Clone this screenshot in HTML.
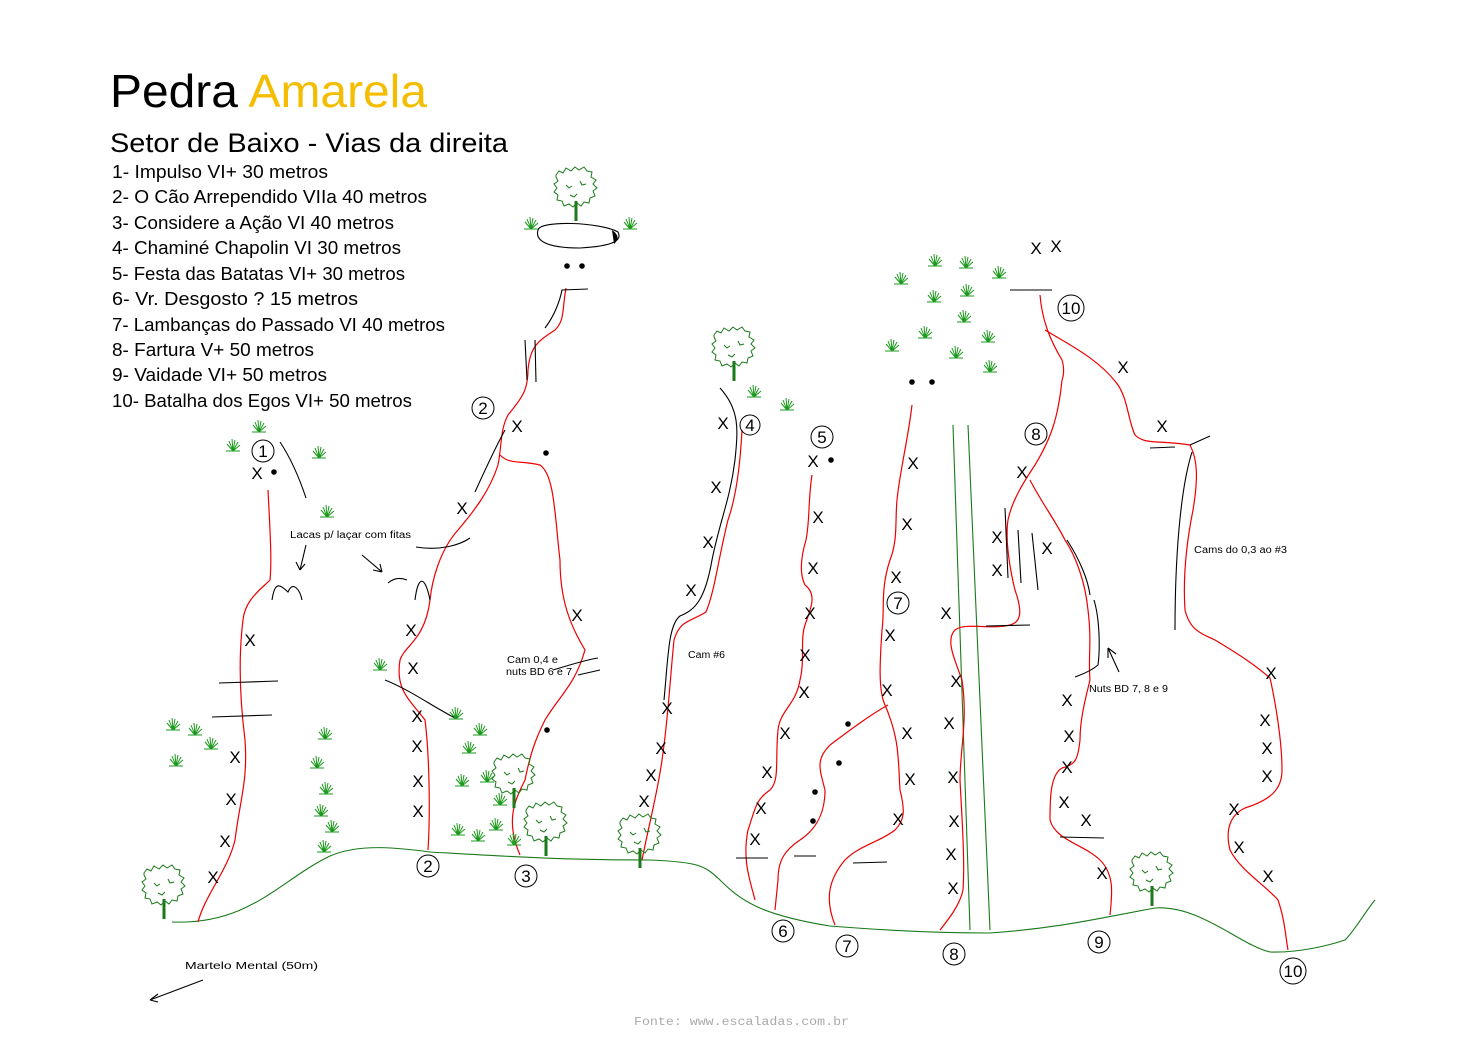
<!DOCTYPE html>
<html><head><meta charset="utf-8"><style>
html,body{margin:0;padding:0;background:#fff;}
svg{display:block;}
.t{font-family:"Liberation Sans",sans-serif;}
.r{fill:none;stroke:#e00;stroke-width:1.2;}
.k{fill:none;stroke:#000;stroke-width:1.1;}
.g{fill:none;stroke:#1a7a1a;stroke-width:1.1;}
.x{font-family:"Liberation Sans",sans-serif;font-size:17px;fill:#000;text-anchor:middle;}
.n{font-family:"Liberation Sans",sans-serif;font-size:17px;fill:#000;text-anchor:middle;}
.s{font-family:"Liberation Sans",sans-serif;font-size:10px;fill:#000;}
</style></head><body>
<svg width="1484" height="1050" viewBox="0 0 1484 1050" xmlns="http://www.w3.org/2000/svg">
<defs>
<g id="tuft" stroke="#1a9a1a" stroke-width="1" fill="none">
<path d="M0 0 L-6 -7 M0 0 L-4 -10 M0 0 L-1 -12 M0 0 L2 -11 M0 0 L5 -9 M0 0 L7 -6 M-7 0 L7 0"/>
</g>
<g id="tree" fill="none" stroke="#1a7a1a" stroke-width="1">
<path d="M-20 -40 l3 -4 l4 2 l3 -5 l5 3 l4 -4 l4 3 l5 -3 l3 4 l5 1 l-1 5 l5 3 l-3 4 l4 4 l-4 3 l2 5 l-5 2 l-1 5 l-5 -1 l-3 4 l-4 -3 l-4 4 l-4 -3 l-5 2 l-2 -5 l-5 -1 l1 -5 l-4 -3 l3 -4 l-3 -4 l4 -3 l-2 -4z"/>
<path d="M-10 -30 l3 3 l3 -2 M4 -34 l2 4 l4 -1 M-6 -20 l4 2 l3 -3"/>
<path d="M0 -14 L0 6" stroke-width="3"/>
</g>
</defs>

<text x="110" y="107" class="t" font-size="46" fill="#000" textLength="317" lengthAdjust="spacingAndGlyphs">Pedra <tspan fill="#f5bd00">Amarela</tspan></text>
<text x="110" y="152" class="t" font-size="27" textLength="398" lengthAdjust="spacingAndGlyphs">Setor de Baixo - Vias da direita</text>
<g class="t" font-size="18">
<text x="112" y="178" textLength="216" lengthAdjust="spacingAndGlyphs">1- Impulso VI+ 30 metros</text>
<text x="112" y="203" textLength="315" lengthAdjust="spacingAndGlyphs">2- O Cão Arrependido VIIa 40 metros</text>
<text x="112" y="229" textLength="282" lengthAdjust="spacingAndGlyphs">3- Considere a Ação VI 40 metros</text>
<text x="112" y="254" textLength="289" lengthAdjust="spacingAndGlyphs">4- Chaminé Chapolin VI 30 metros</text>
<text x="112" y="280" textLength="293" lengthAdjust="spacingAndGlyphs">5- Festa das Batatas VI+ 30 metros</text>
<text x="112" y="305" textLength="246" lengthAdjust="spacingAndGlyphs">6- Vr. Desgosto  ?  15 metros</text>
<text x="112" y="331" textLength="333" lengthAdjust="spacingAndGlyphs">7- Lambanças do Passado VI 40 metros</text>
<text x="112" y="356" textLength="202" lengthAdjust="spacingAndGlyphs">8- Fartura V+ 50 metros</text>
<text x="112" y="381" textLength="215" lengthAdjust="spacingAndGlyphs">9- Vaidade VI+ 50 metros</text>
<text x="112" y="407" textLength="300" lengthAdjust="spacingAndGlyphs">10- Batalha dos Egos VI+ 50 metros</text>
</g>

<path class="g" d="M172 922 C250 925 280 880 330 856 C360 843 400 848 430 852 C500 856 560 860 650 860 C700 862 705 866 720 880 C740 900 760 915 830 926 C880 930 940 933 990 933 C1060 928 1100 918 1155 908 C1200 905 1240 945 1270 952 C1300 953 1330 945 1345 940 C1355 930 1365 912 1375 900"/>
<path class="k" d="M538 230 C540 220 600 222 618 232 C622 240 615 246 580 248 C545 248 535 240 538 230z"/>
<path d="M612 230 Q622 237 614 244z" fill="#000"/>
<path class="g" d="M953 425 L970 930 M968 425 L990 930"/>

<path class="r" d="M268 490 C270 530 272 560 270 580 C260 590 245 600 243 620 C238 660 240 700 245 740 C248 780 240 800 235 840 C228 870 205 895 198 922"/>
<path class="r" d="M566 288 C562 310 565 320 555 330 C540 340 530 345 528 370 C528 392 520 400 508 415 C500 430 502 445 498 465 C490 490 475 510 458 530 C440 550 432 580 430 600 C425 640 405 645 400 660 C395 690 410 700 425 720 C430 760 430 820 428 850"/>
<path class="r" d="M500 455 C510 465 520 460 540 465 C555 475 555 520 560 560 C560 600 570 625 585 650 C575 685 560 695 545 720 C535 740 530 755 525 780 C515 800 505 820 520 855"/>
<path class="r" d="M742 430 C740 470 735 500 728 520 C718 560 715 590 706 612 C690 622 680 620 674 640 C670 680 668 720 662 760 C658 790 650 820 642 860"/>
<path class="r" d="M812 475 C808 500 810 520 806 540 C800 560 800 575 805 585 C818 595 810 610 805 625 C800 640 805 660 800 680 C796 705 780 710 778 730 C775 760 780 780 770 790 C755 800 755 810 748 830 C742 860 750 880 755 900"/>
<path class="r" d="M912 405 C908 440 900 470 897 500 C895 520 898 540 890 560 C880 590 885 610 882 630 C880 660 878 690 885 705 C900 740 898 760 900 790 C905 810 905 820 895 830 C880 842 860 845 845 860 C828 880 825 900 835 925"/>
<path class="r" d="M888 705 C870 715 850 730 830 745 C815 760 820 770 825 790 C825 815 815 830 800 840 C785 850 778 860 778 880 L775 910"/>
<path class="r" d="M1062 380 C1058 420 1050 440 1035 465 C1025 480 1012 500 1008 520 C1005 540 1010 570 1015 590 C1022 610 1022 622 1010 625 C990 630 965 622 955 630 C945 640 955 660 962 680 C968 720 960 750 960 780 C962 820 965 860 963 890 C960 905 948 920 940 930"/>
<path class="r" d="M1030 480 C1040 500 1055 520 1065 540 C1075 555 1085 580 1088 610 C1092 640 1088 660 1090 680 C1085 700 1080 720 1080 740 C1078 760 1075 765 1062 768 C1050 775 1050 800 1050 820 C1055 840 1085 845 1100 860 C1115 875 1112 895 1110 915"/>
<path class="r" d="M1040 295 C1042 320 1050 340 1062 360 C1065 370 1063 378 1062 380"/>
<path class="r" d="M1045 330 C1070 345 1100 360 1118 385 C1128 400 1128 420 1135 435 C1145 445 1160 440 1190 445 C1198 460 1198 480 1193 510 C1186 545 1183 580 1185 610 C1190 630 1200 633 1215 640 C1240 655 1255 665 1270 678 C1275 700 1282 740 1282 770 C1282 790 1270 800 1245 808 C1230 815 1225 830 1230 850 C1240 870 1265 885 1278 900 C1285 920 1286 940 1288 950"/>

<g class="k">
<path d="M280 442 C292 460 300 480 306 498"/>
<path d="M219 683 L278 681 M212 717 L272 715"/>
<path d="M306 545 L300 570 M300 570 L296 562 M300 570 L305 564"/>
<path d="M362 555 L382 572 M382 572 L373 570 M382 572 L380 564"/>
<path d="M272 600 C275 580 280 585 288 592 C293 580 300 590 302 600"/>
<path d="M388 583 C395 577 402 578 407 580 M415 600 C418 575 425 575 430 600"/>
<path d="M416 547 C440 551 460 545 470 538"/>
<path d="M475 492 C485 470 495 448 505 430"/>
<path d="M545 328 C555 315 560 300 562 290 L588 289"/>
<path d="M525 340 L527 380 M535 340 L536 382"/>
<path d="M385 680 C410 690 430 705 455 718"/>
<path d="M553 670 C570 665 585 660 598 658 M578 675 L600 670"/>
<path d="M720 388 C740 410 738 430 735 460 C730 500 720 520 712 560 C705 600 695 610 680 616 C668 625 668 660 664 700"/>
<path d="M1010 290 L1052 290"/>
<path d="M1150 448 L1175 447 M1190 445 L1210 436"/>
<path d="M1192 452 C1180 490 1175 560 1175 630"/>
<path d="M1005 508 L1008 578 M1018 530 L1021 583 M1032 533 L1038 590"/>
<path d="M986 626 L1030 625"/>
<path d="M1067 540 C1080 560 1088 580 1090 595 M1094 600 C1100 620 1100 650 1098 665 C1090 672 1080 675 1075 677"/>
<path d="M1119 672 L1108 648 M1108 648 L1108 658 M1108 648 L1116 654"/>
<path d="M1060 837 L1104 838"/>
<path d="M736 858 L768 858 M794 856 L816 856 M853 863 L887 862"/>
<path d="M203 980 L150 1000 M150 1000 L158 994 M150 1000 L158 1002"/>
</g>

<g fill="#000">
<circle cx="274" cy="472" r="2.8"/><circle cx="546" cy="453" r="2.8"/><circle cx="547" cy="730" r="2.8"/>
<circle cx="567" cy="266" r="2.8"/><circle cx="582" cy="266" r="2.8"/><circle cx="912" cy="382" r="2.8"/><circle cx="932" cy="382" r="2.8"/>
<circle cx="848" cy="724" r="2.8"/><circle cx="839" cy="763" r="2.8"/><circle cx="815" cy="792" r="2.8"/><circle cx="813" cy="821" r="2.8"/><circle cx="831" cy="460" r="2.8"/>
</g>

<g class="x">
<text x="257" y="479">X</text><text x="250" y="646">X</text><text x="235" y="763">X</text><text x="231" y="805">X</text><text x="225" y="847">X</text><text x="213" y="883">X</text>
<text x="517" y="432">X</text><text x="462" y="514">X</text><text x="411" y="636">X</text><text x="413" y="674">X</text><text x="417" y="722">X</text><text x="417" y="752">X</text><text x="418" y="787">X</text><text x="418" y="817">X</text>
<text x="577" y="621">X</text>
<text x="723" y="429">X</text><text x="716" y="493">X</text><text x="708" y="548">X</text><text x="691" y="596">X</text><text x="667" y="714">X</text><text x="661" y="754">X</text><text x="651" y="781">X</text><text x="644" y="807">X</text>
<text x="813" y="467">X</text><text x="818" y="523">X</text><text x="813" y="574">X</text><text x="810" y="619">X</text><text x="805" y="661">X</text><text x="804" y="698">X</text><text x="785" y="739">X</text><text x="767" y="778">X</text><text x="761" y="814">X</text><text x="755" y="845">X</text>
<text x="913" y="469">X</text><text x="907" y="530">X</text><text x="896" y="583">X</text><text x="890" y="641">X</text><text x="887" y="696">X</text><text x="907" y="739">X</text><text x="910" y="785">X</text><text x="898" y="825">X</text>
<text x="946" y="619">X</text><text x="956" y="687">X</text><text x="949" y="729">X</text><text x="953" y="783">X</text><text x="954" y="827">X</text><text x="951" y="860">X</text><text x="953" y="894">X</text>
<text x="1036" y="254">X</text><text x="1056" y="252">X</text>
<text x="1123" y="373">X</text><text x="1162" y="432">X</text><text x="1022" y="478">X</text><text x="997" y="543">X</text><text x="997" y="576">X</text><text x="1047" y="554">X</text>
<text x="1067" y="706">X</text><text x="1069" y="742">X</text><text x="1067" y="773">X</text><text x="1064" y="808">X</text><text x="1086" y="826">X</text><text x="1102" y="879">X</text>
<text x="1271" y="679">X</text><text x="1265" y="726">X</text><text x="1267" y="754">X</text><text x="1267" y="782">X</text><text x="1234" y="815">X</text><text x="1239" y="853">X</text><text x="1268" y="882">X</text>
</g>

<g fill="none" stroke="#000" stroke-width="1">
<circle cx="263" cy="451" r="11"/><circle cx="483" cy="408" r="11"/><circle cx="428" cy="866" r="11"/><circle cx="526" cy="876" r="11"/>
<circle cx="750" cy="425" r="10"/><circle cx="822" cy="437" r="11"/><circle cx="783" cy="931" r="11"/><circle cx="898" cy="603" r="11"/>
<circle cx="847" cy="946" r="11"/><circle cx="1036" cy="434" r="11"/><circle cx="954" cy="954" r="11"/><circle cx="1099" cy="942" r="11"/>
<circle cx="1071" cy="308" r="13"/><circle cx="1293" cy="971" r="13"/>
</g>
<g class="n">
<text x="263" y="457">1</text><text x="483" y="414">2</text><text x="428" y="872">2</text><text x="526" y="882">3</text>
<text x="750" y="431">4</text><text x="822" y="443">5</text><text x="783" y="937">6</text><text x="898" y="609">7</text>
<text x="847" y="952">7</text><text x="1036" y="440">8</text><text x="954" y="960">8</text><text x="1099" y="948">9</text>
<text x="1071" y="314">10</text><text x="1293" y="977">10</text>
</g>

<text x="290" y="538" class="s" textLength="121" lengthAdjust="spacingAndGlyphs">Lacas p/ laçar com fitas</text>
<text x="507" y="663" class="s" textLength="51" lengthAdjust="spacingAndGlyphs">Cam 0,4 e</text>
<text x="506" y="675" class="s" textLength="66" lengthAdjust="spacingAndGlyphs">nuts BD 6 e 7</text>
<text x="688" y="658" class="s" textLength="37" lengthAdjust="spacingAndGlyphs">Cam #6</text>
<text x="1089" y="692" class="s" textLength="79" lengthAdjust="spacingAndGlyphs">Nuts BD 7, 8 e 9</text>
<text x="1194" y="553" class="s" textLength="93" lengthAdjust="spacingAndGlyphs">Cams do 0,3 ao #3</text>
<text x="185" y="969" class="s" font-size="12" textLength="133" lengthAdjust="spacingAndGlyphs">Martelo Mental (50m)</text>
<text x="634" y="1025" font-family="Liberation Mono, monospace" font-size="12" fill="#aaa" textLength="215" lengthAdjust="spacingAndGlyphs">Fonte: www.escaladas.com.br</text>

<use href="#tree" x="576" y="215"/><use href="#tree" x="734" y="375"/><use href="#tree" x="164" y="913"/>
<use href="#tree" x="514" y="802"/><use href="#tree" x="546" y="850"/><use href="#tree" x="640" y="862"/><use href="#tree" x="1152" y="900"/>

<g>
<use href="#tuft" x="531" y="229"/><use href="#tuft" x="630" y="229"/>
<use href="#tuft" x="259" y="432"/><use href="#tuft" x="233" y="451"/><use href="#tuft" x="319" y="458"/><use href="#tuft" x="327" y="517"/>
<use href="#tuft" x="173" y="730"/><use href="#tuft" x="195" y="735"/><use href="#tuft" x="211" y="749"/><use href="#tuft" x="176" y="766"/>
<use href="#tuft" x="325" y="739"/><use href="#tuft" x="317" y="768"/><use href="#tuft" x="326" y="794"/><use href="#tuft" x="321" y="816"/><use href="#tuft" x="332" y="832"/><use href="#tuft" x="324" y="852"/>
<use href="#tuft" x="380" y="670"/><use href="#tuft" x="456" y="719"/><use href="#tuft" x="480" y="735"/><use href="#tuft" x="469" y="753"/>
<use href="#tuft" x="462" y="786"/><use href="#tuft" x="487" y="782"/><use href="#tuft" x="500" y="805"/><use href="#tuft" x="458" y="835"/><use href="#tuft" x="478" y="841"/><use href="#tuft" x="496" y="830"/><use href="#tuft" x="514" y="845"/>
<use href="#tuft" x="754" y="397"/><use href="#tuft" x="787" y="410"/>
<use href="#tuft" x="935" y="266"/><use href="#tuft" x="966" y="268"/><use href="#tuft" x="999" y="278"/><use href="#tuft" x="901" y="284"/>
<use href="#tuft" x="934" y="302"/><use href="#tuft" x="967" y="296"/><use href="#tuft" x="964" y="322"/><use href="#tuft" x="925" y="338"/>
<use href="#tuft" x="892" y="351"/><use href="#tuft" x="988" y="342"/><use href="#tuft" x="956" y="358"/><use href="#tuft" x="990" y="372"/>
</g>
</svg>
</body></html>
